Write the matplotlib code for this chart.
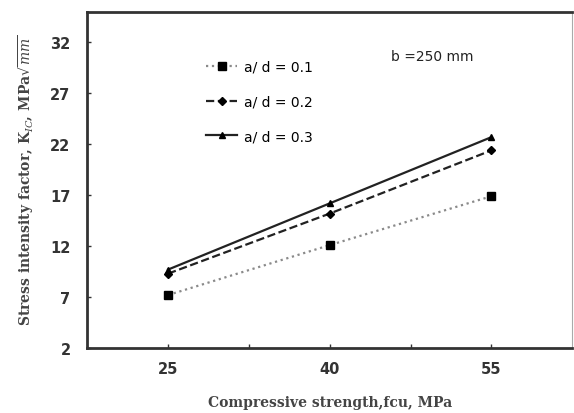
import matplotlib
matplotlib.use("Agg")
import matplotlib.pyplot as plt

plt.rcParams["mathtext.fontset"] = "dejavuserif"

# data
strength = [25, 40, 55]
k_ad01 = [7.2, 12.1, 16.9]
k_ad02 = [9.3, 15.2, 21.4]
k_ad03 = [9.7, 16.2, 22.7]
labels = ["a/ d = 0.1", "a/ d = 0.2", "a/ d = 0.3"]
x_ticks = [25, 32.5, 40, 47.5, 55]
x_ticklabels = ["25", "", "40", "", "55"]
y_ticks = [2, 7, 12, 17, 22, 27, 32]

fig = plt.figure(figsize=(5.74, 4.14), dpi=100)
ax = fig.add_axes([0.152, 0.157, 0.845, 0.812])

ax.plot(strength, k_ad01, linestyle=":", color="#8a8a8a", lw=1.6,
        marker="s", ms=6, mfc="black", mec="black", label=labels[0])
ax.plot(strength, k_ad02, linestyle="--", color="#222222", lw=1.6,
        marker="D", ms=4, mfc="black", mec="black", label=labels[1])
ax.plot(strength, k_ad03, linestyle="-", color="#222222", lw=1.6,
        marker="^", ms=5, mfc="black", mec="black", label=labels[2])

ax.set_xlim(17.5, 62.5)
ax.set_ylim(2, 35)
ax.set_xticks(x_ticks)
ax.set_xticklabels(x_ticklabels)
ax.set_yticks(y_ticks)
ax.tick_params(direction="in", length=3, width=1, labelsize=10.5, colors="#333")
for lab in ax.get_xticklabels() + ax.get_yticklabels():
    lab.set_fontweight("bold")
ax.tick_params(axis="x", pad=9)
ax.tick_params(axis="y", pad=12)

for side in ["left", "bottom", "top"]:
    ax.spines[side].set_linewidth(2.0)
    ax.spines[side].set_color("#333")
ax.spines["right"].set_linewidth(0.8)
ax.spines["right"].set_color("#aaa")

ax.set_xlabel("Compressive strength,fcu, MPa", family="DejaVu Serif",
              fontweight="bold", fontsize=10, color="#444", labelpad=14)
ax.set_ylabel(r"Stress intensity factor, K$_{IC}$, MPa$\sqrt{mm}$",
              family="DejaVu Serif", fontweight="bold", fontsize=10,
              color="#444", labelpad=10)

ax.text(0.627, 0.87, "b =250 mm", transform=ax.transAxes, fontsize=10,
        color="#222", ha="left", va="center")

ax.legend(loc="upper left", bbox_to_anchor=(0.22, 0.895), frameon=False,
          fontsize=10, handlelength=2.2, labelspacing=1.5, handletextpad=0.5)

plt.savefig("out.png", dpi=100)
